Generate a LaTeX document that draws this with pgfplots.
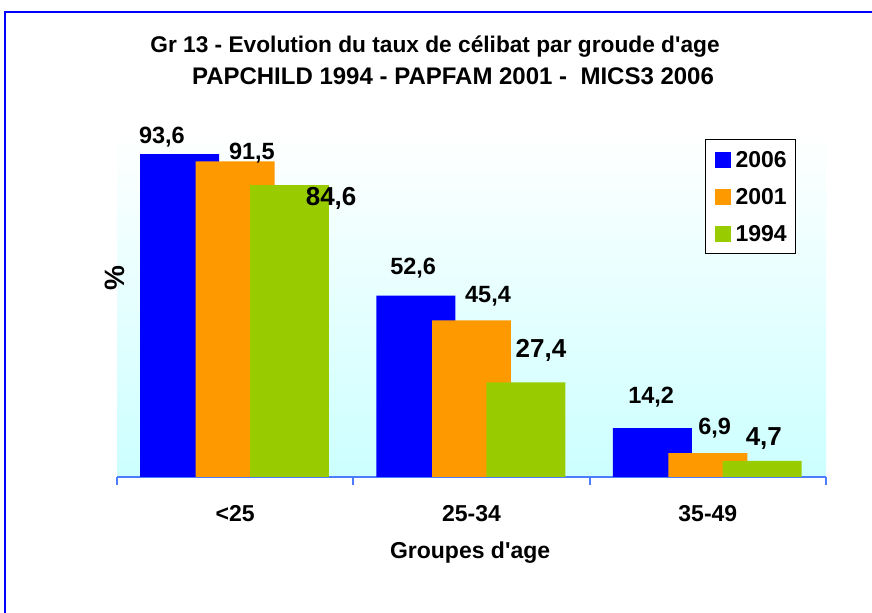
\documentclass[border=0pt]{standalone}
\usepackage{fontspec}
\setmainfont{Liberation Sans}
\usepackage{pgfplots}
\pgfplotsset{compat=1.18}
\definecolor{c06}{HTML}{0000FF}
\definecolor{c01}{HTML}{FF9900}
\definecolor{c94}{HTML}{99CC00}
\definecolor{axblue}{HTML}{4D7CFF}
\definecolor{bgcyan}{HTML}{CCFFFF}
\newcommand{\fs}[1]{\fontsize{#1bp}{#1bp}\selectfont\bfseries}

\begin{document}
\begin{tikzpicture}
\useasboundingbox (0bp,0bp) rectangle (872bp,613bp);
\fill[white] (0bp,0bp) rectangle (872bp,613bp);
\draw[c06, line width=2.5bp] (5bp,0bp) -- (5bp,601bp) -- (872bp,601bp);
\node[font=\fs{22.7}] at (435bp,566bp) {Gr 13 - Evolution du taux de célibat par groude d\textquotesingle age};
\node[font=\fs{24}] at (453bp,537bp) {PAPCHILD 1994 - PAPFAM 2001 -\ \ MICS3 2006};
\begin{axis}[
  at={(117bp,136bp)}, anchor=south west,
  width=709bp, height=345bp, scale only axis,
  xmin=-0.5, xmax=2.5, ymin=0, ymax=100,
  axis y line=none, axis x line=bottom,
  x axis line style={-, axblue, line width=2bp},
  xtick={0,1,2}, xticklabels={{<25},{25-34},{35-49}},
  major x tick style={draw=none},
  minor xtick={-0.5,0.5,1.5,2.5},
  minor x tick style={axblue, line width=2bp},
  minor tick length=8bp, tick align=outside,
  xticklabel style={font=\fs{23}, text height=0.72em, text depth=0pt, inner sep=0pt, anchor=center, yshift=-37bp},
  ybar, bar width=0.334, clip=false,
  axis background/.style={top color=white, bottom color=bgcyan},
  sq legend/.style={legend image code/.code={\fill[##1] (0bp,-8bp) rectangle (16bp,8bp);}},
  legend style={at={(0.829,0.980)}, anchor=north west, draw=black, line width=1.5bp, fill=white,
    font=\fs{23}, inner xsep=9bp, inner ysep=12bp, row sep=21bp,
    nodes={inner sep=0pt, text height=16bp, text depth=0bp},
    /tikz/every odd column/.append style={column sep=5bp}},
  legend cell align=left,
]
\addplot[fill=c06, draw=none, bar shift=-0.235, sq legend] coordinates {(0,93.6) (1,52.6) (2,14.2)};
\addlegendentry{2006}
\addplot[fill=c01, draw=none, bar shift=0, sq legend] coordinates {(0,91.5) (1,45.4) (2,6.9)};
\addlegendentry{2001}
\addplot[fill=c94, draw=none, bar shift=0.23, sq legend] coordinates {(0,84.6) (1,27.4) (2,4.7)};
\addlegendentry{1994}

% data labels
\begin{scope}[every node/.style={text height=0.72em, text depth=0pt, inner sep=0pt}]
\node[font=\fs{23.5}] at (axis cs:-0.310,97.7) {93,6};
\node[font=\fs{23.5}] at (axis cs:0.071,93.0) {91,5};
\node[font=\fs{26}] at (axis cs:0.406,79.7) {84,6};
\node[font=\fs{23.5}] at (axis cs:0.753,59.7) {52,6};
\node[font=\fs{23.5}] at (axis cs:1.070,51.6) {45,4};
\node[font=\fs{26}] at (axis cs:1.294,35.7) {27,4};
\node[font=\fs{23.5}] at (axis cs:1.760,22.2) {14,2};
\node[font=\fs{23.5}] at (axis cs:2.029,13.3) {6,9};
\node[font=\fs{26}] at (axis cs:2.237,10.1) {4,7};
\node[font=\fs{23}] at (rel axis cs:0.498,0) [yshift=-78bp] {Groupes d\textquotesingle age};
\node[font=\fs{28}, rotate=90] at (rel axis cs:0.0056,0.577) {\%};
\end{scope}
\end{axis}
\end{tikzpicture}
\end{document}
